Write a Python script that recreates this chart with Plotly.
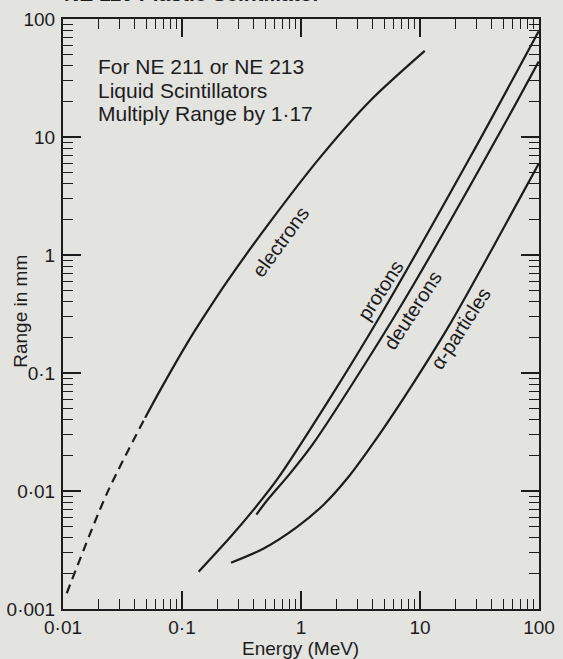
import plotly.graph_objects as go

# ---- data (Energy in MeV, Range in mm) ----
electron_dash_E = [0.01075, 0.0233, 0.049]
electron_dash_R = [0.00136, 0.00945, 0.0417]
electron_E = [0.049, 0.0656, 0.110, 0.152, 0.239, 0.554, 1.46, 3.85, 10.96]
electron_R = [0.0417, 0.0716, 0.1774, 0.2985, 0.595, 1.928, 6.79, 20.5, 53.7]

proton_E = [0.138, 0.255, 0.400, 0.630, 1.77, 4.38, 26.8, 99.4]
proton_R = [0.00207, 0.00407, 0.00695, 0.01253, 0.0622, 0.2773, 6.93, 78.7]

deuteron_E = [0.422, 0.510, 0.801, 1.261, 3.543, 8.76, 53.5, 99.4]
deuteron_R = [0.00631, 0.00815, 0.0139, 0.02506, 0.1245, 0.5546, 13.87, 43.65]

alpha_E = [0.258, 0.486, 0.929, 1.556, 2.403, 4.67, 8.69, 17.46, 41.0, 99.4]
alpha_R = [0.00247, 0.00326, 0.00497, 0.00769, 0.0125, 0.0313, 0.0805, 0.2495, 1.159, 5.92]

x_tickvals = [0.01, 0.1, 1, 10, 100]
x_ticktext = ["0·01", "0·1", "1", "10", "100"]
y_tickvals = [0.001, 0.01, 0.1, 1, 10, 100]
y_ticktext = ["0·001", "0·01", "0·1", "1", "10", "100"]

INK = "#1c1c1c"
BG = "#e3e3e0"
FONT = "Liberation Sans, Arial, sans-serif"

x_minor = [m * 10 ** k for k in range(-2, 2) for m in range(2, 10)]
y_minor = [m * 10 ** k for k in range(-3, 2) for m in range(2, 10)]

fig = go.Figure()
line = dict(color=INK, width=2.2, shape="spline", smoothing=0.8)
fig.add_trace(go.Scatter(x=electron_dash_E, y=electron_dash_R, mode="lines",
                         line=dict(color=INK, width=2.2, dash="9px,6px", shape="spline", smoothing=0.8)))
fig.add_trace(go.Scatter(x=electron_E, y=electron_R, mode="lines", line=line))
fig.add_trace(go.Scatter(x=proton_E, y=proton_R, mode="lines", line=line))
fig.add_trace(go.Scatter(x=deuteron_E, y=deuteron_R, mode="lines", line=line))
fig.add_trace(go.Scatter(x=alpha_E, y=alpha_R, mode="lines", line=line))

def axis_common(minor_vals):
    return dict(
        type="log", showgrid=False, zeroline=False, showline=True, linecolor=INK, linewidth=2,
        mirror="allticks", ticks="inside", ticklen=18, tickwidth=1.5, tickcolor=INK,
        minor=dict(ticks="inside", ticklen=10, tickwidth=1.2, tickcolor=INK,
                   tickmode="array", tickvals=minor_vals, showgrid=False),
        tickfont=dict(family=FONT, size=19, color=INK), automargin=False,
    )

fig.update_xaxes(range=[-2, 2], tickvals=x_tickvals, ticktext=x_ticktext,
                 ticklabelstandoff=0, **axis_common(x_minor))
fig.update_yaxes(range=[-3, 2], tickvals=y_tickvals, ticktext=y_ticktext,
                 ticklabelstandoff=2, **axis_common(y_minor))

ann_font = dict(family=FONT, size=20, color=INK)
note_font = dict(family=FONT, size=21, color=INK)
annotations = [
    dict(text="NE 110 Plastic Scintillator", xref="paper", yref="paper", x=-0.003, y=1,
         xanchor="left", yanchor="bottom", yshift=12, showarrow=False,
         font=dict(family=FONT, size=21, color=INK, weight="bold")),
    dict(text="For NE 211 or NE 213", xref="paper", yref="paper", x=0.072, y=0.920,
         xanchor="left", yanchor="middle", showarrow=False, borderpad=0, font=note_font),
    dict(text="Liquid Scintillators", xref="paper", yref="paper", x=0.072, y=0.8795,
         xanchor="left", yanchor="middle", showarrow=False, borderpad=0, font=note_font),
    dict(text="Multiply Range by 1·17", xref="paper", yref="paper", x=0.072, y=0.839,
         xanchor="left", yanchor="middle", showarrow=False, borderpad=0, font=note_font),
    dict(text="Energy (MeV)", xref="paper", yref="paper", x=0.498, y=-0.067,
         xanchor="center", yanchor="middle", showarrow=False, borderpad=0,
         font=dict(family=FONT, size=19, color=INK)),
    dict(text="Range in mm", xref="paper", yref="paper", x=-0.091, y=0.505,
         xanchor="center", yanchor="middle", textangle=-90, showarrow=False, borderpad=0,
         font=dict(family=FONT, size=19, color=INK)),
    # curve labels (positions on log axes are in log10 units)
    dict(text="electrons", x=-0.173, y=0.11, xref="x", yref="y", showarrow=False,
         textangle=-54, font=ann_font),
    dict(text="protons", x=0.669, y=-0.297, xref="x", yref="y", showarrow=False,
         textangle=-57, font=ann_font),
    dict(text="deuterons", x=0.939, y=-0.466, xref="x", yref="y", showarrow=False,
         textangle=-57, font=ann_font),
    dict(text="α-particles", x=1.343, y=-0.619, xref="x", yref="y", showarrow=False,
         textangle=-57, font=ann_font),
]
fig.update_layout(
    width=563, height=659, autosize=False,
    margin=dict(l=63, r=24, t=19, b=50),
    paper_bgcolor=BG, plot_bgcolor=BG,
    showlegend=False,
    annotations=annotations,
    font=dict(family=FONT, color=INK),
)
fig.write_html(
    "out.html",
    config={"displayModeBar": False},
    post_script="document.body.style.margin='0px';document.body.style.background='#e3e3e0';",
)
